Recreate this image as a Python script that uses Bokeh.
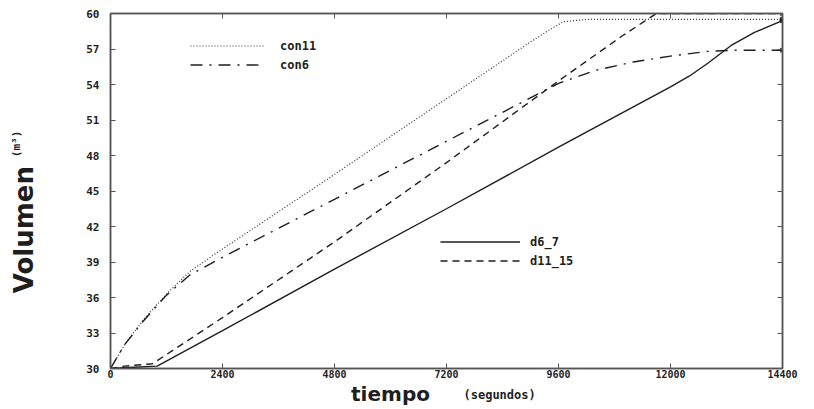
import math
from bokeh.plotting import figure
from bokeh.models import (LinearAxis, FixedTicker, Label, Legend, LegendItem, Range1d)
from bokeh.layouts import row, column
from bokeh.embed import file_html
from bokeh.resources import INLINE

# ---- data ----
x_ticks = [0, 2400, 4800, 7200, 9600, 12000, 14400]
y_ticks = [30, 33, 36, 39, 42, 45, 48, 51, 54, 57, 60]

t_con11 = [0, 300, 700, 1200, 1700, 2400, 4800, 7200, 9000, 9400, 9700, 10200, 14400]
v_con11 = [30, 32.0, 34.1, 36.3, 38.2, 40.1, 46.4, 52.8, 57.6, 58.6, 59.3, 59.5, 59.5]

t_con6 = [0, 300, 700, 1200, 1700, 2400, 4800, 7200, 9600, 10400, 11200, 12000, 12800, 13400, 14400]
v_con6 = [30, 32.0, 34.0, 36.2, 37.9, 39.4, 44.3, 49.2, 54.1, 55.2, 55.9, 56.4, 56.8, 56.9, 56.9]

t_d6_7 = [0, 500, 1000, 2400, 4800, 7200, 9600, 12000, 12400, 12800, 13300, 13800, 14400]
v_d6_7 = [30, 30.1, 30.2, 33.2, 38.4, 43.5, 48.7, 53.8, 54.7, 55.8, 57.3, 58.4, 59.4]

t_d11_15 = [0, 300, 900, 2400, 4800, 7200, 9600, 11000, 11700, 14400]
v_d11_15 = [30, 30.2, 30.4, 34.3, 40.7, 47.4, 54.3, 58.2, 60, 60]

INK = "#1e1e1e"
AX = "#555555"
MONO = "DejaVu Sans Mono"
BOLD = "DejaVu Sans"

MAIN_H = 381

p = figure(width=752, height=MAIN_H, output_backend="svg", toolbar_location=None,
           x_range=Range1d(0, 14400), y_range=Range1d(30, 60),
           min_border_left=50, min_border_right=30, min_border_top=13, min_border_bottom=13)
p.background_fill_color = "white"
p.border_fill_color = "white"
p.outline_line_color = AX
p.outline_line_width = 1.5
p.xgrid.visible = False
p.ygrid.visible = False

def style_axis(ax, ticks, show_labels=True, size="11px"):
    ax.ticker = FixedTicker(ticks=ticks)
    ax.axis_line_color = AX
    ax.axis_line_width = 1.5
    ax.major_tick_in = 5
    ax.major_tick_out = 0
    ax.major_tick_line_color = AX
    ax.minor_tick_line_color = None
    ax.major_label_text_font = MONO
    ax.major_label_text_font_style = "bold"
    if show_labels:
        ax.major_label_text_color = INK
        ax.major_label_text_font_size = size
    else:
        ax.major_label_text_color = None
        ax.major_label_text_font_size = "1px"
        ax.major_label_standoff = 0

style_axis(p.xaxis[0], x_ticks, size="10px")
p.xaxis[0].major_label_standoff = 1
style_axis(p.yaxis[0], y_ticks, size="11px")
p.yaxis[0].major_label_standoff = 11

top = LinearAxis()
style_axis(top, x_ticks, False)
p.add_layout(top, "above")
right = LinearAxis()
style_axis(right, y_ticks, False)
p.add_layout(right, "right")

r_con11 = p.line(t_con11, v_con11, line_color="#333333", line_width=1.2, line_dash="1 2")
r_con6 = p.line(t_con6, v_con6, line_color=INK, line_width=1.4, line_dash="12 7 2 7")
r_d6 = p.line(t_d6_7, v_d6_7, line_color=INK, line_width=1.4)
r_d11 = p.line(t_d11_15, v_d11_15, line_color=INK, line_width=1.4, line_dash="7 5")

# end markers
p.scatter([t_con11[-1], t_con6[-1], t_d6_7[-1], t_d11_15[-1]],
          [v_con11[-1], v_con6[-1], v_d6_7[-1], v_d11_15[-1]],
          marker="asterisk", size=6, line_color=INK, line_width=1.2)

def mk_legend(items, x, y, gw, standoff):
    lg = Legend(items=items, location=(x, y), orientation="vertical",
                glyph_width=gw, glyph_height=19, label_height=19, spacing=0,
                padding=0, margin=0, label_standoff=standoff,
                border_line_alpha=0, background_fill_alpha=0,
                label_text_font=MONO, label_text_font_style="bold",
                label_text_font_size="12px", label_text_color=INK)
    p.add_layout(lg, "center")

mk_legend([LegendItem(label="con11", renderers=[r_con11]),
           LegendItem(label="con6", renderers=[r_con6])], 80, 294, 75, 15)
mk_legend([LegendItem(label="d6_7", renderers=[r_d6]),
           LegendItem(label="d11_15", renderers=[r_d11])], 330, 98, 80, 10)

# ---- left strip holding the y title ----
LEFT_W = 60
left = figure(width=LEFT_W, height=MAIN_H, output_backend="svg", toolbar_location=None,
              x_range=Range1d(0, LEFT_W), y_range=Range1d(0, MAIN_H),
              x_axis_location=None, y_axis_location=None, min_border=0)
left.outline_line_color = None
left.xgrid.visible = False
left.ygrid.visible = False
left.add_layout(Label(x=23, y=MAIN_H - 232, text="Volumen", angle=math.pi / 2,
                      text_align="center", text_baseline="middle",
                      text_font=BOLD, text_font_style="bold", text_font_size="26px",
                      text_color=INK))
left.add_layout(Label(x=16, y=MAIN_H - 140, text="(m³)", angle=math.pi / 2,
                      text_align="center", text_baseline="middle",
                      text_font=MONO, text_font_style="bold", text_font_size="11px",
                      text_color=INK))

# ---- bottom strip holding the x title ----
BOT_H = 27
TOT_W = LEFT_W + 752
bottom = figure(width=TOT_W, height=BOT_H, output_backend="svg", toolbar_location=None,
                x_range=Range1d(0, TOT_W), y_range=Range1d(0, BOT_H),
                x_axis_location=None, y_axis_location=None, min_border=0)
bottom.outline_line_color = None
bottom.xgrid.visible = False
bottom.ygrid.visible = False
y0 = MAIN_H + BOT_H
bottom.add_layout(Label(x=390, y=y0 - 393, text="tiempo",
                        text_align="center", text_baseline="middle",
                        text_font=BOLD, text_font_style="bold", text_font_size="20px",
                        text_color=INK))
bottom.add_layout(Label(x=463, y=y0 - 394, text="(segundos)",
                        text_align="left", text_baseline="middle",
                        text_font=MONO, text_font_style="bold", text_font_size="12px",
                        text_color=INK))

layout = column(row(left, p, spacing=0), bottom, spacing=0)

open("out.html", "w").write(file_html(layout, INLINE))
